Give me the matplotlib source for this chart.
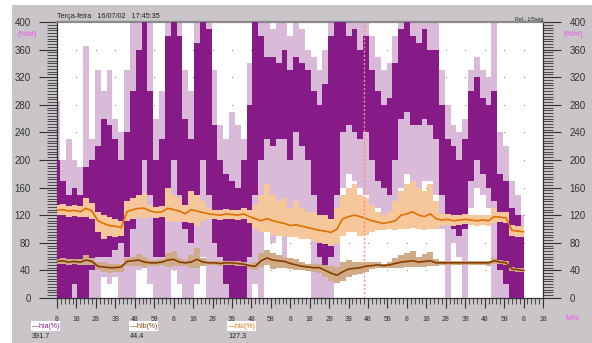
import numpy as np
import matplotlib.pyplot as plt
from matplotlib.ticker import MultipleLocator, FuncFormatter

# minutes since start of record, one sample every 3 min
t = np.arange(0, 241, 3)

# hla (%): dense band (dark) and spike extent (light)
hla_hi = [200, 170, 150, 160, 150, 190, 200, 220, 260, 250, 230, 200, 240, 300, 360, 400,
          300, 200, 230, 380, 400, 380, 260, 230, 370, 400, 390, 250, 200, 180, 170, 160,
          200, 280, 400, 380, 350, 350, 340, 360, 330, 350, 340, 330, 300, 280, 310, 380,
          400, 400, 380, 390, 360, 380, 330, 300, 280, 290, 340, 390, 400, 380, 370, 390,
          360, 360, 280, 230, 220, 200, 230, 300, 320, 290, 280, 300, 180, 170, 130, 120, 100]
hla_lo = [0, 0, 0, 20, 0, 0, 40, 60, 60, 60, 70, 80, 60, 100, 150, 200,
          150, 60, 60, 150, 200, 150, 100, 80, 150, 200, 150, 80, 60, 20, 0, 0,
          0, 60, 150, 200, 230, 220, 230, 230, 200, 240, 220, 200, 150, 60, 30, 60,
          150, 240, 250, 240, 230, 240, 200, 170, 160, 150, 200, 260, 270, 250, 250, 260,
          250, 230, 150, 110, 100, 90, 100, 170, 200, 180, 160, 140, 40, 20, 0, 0, 0]
hla_max = [285, 200, 230, 200, 190, 365, 230, 330, 300, 330, 260, 240, 330, 400, 400, 400,
           400, 260, 300, 400, 400, 400, 330, 300, 400, 400, 400, 330, 250, 230, 270, 250,
           230, 340, 400, 400, 400, 390, 400, 400, 380, 400, 390, 360, 350, 330, 360, 400,
           400, 400, 400, 400, 400, 400, 380, 350, 330, 340, 380, 400, 400, 400, 400, 400,
           400, 400, 330, 280, 250, 240, 260, 330, 350, 330, 320, 400, 240, 220, 170, 150, 120]
hla_min = [0, 0, 0, 0, 0, 0, 0, 0, 30, 20, 30, 0, 0, 0, 40, 60,
           20, 0, 0, 0, 40, 20, 0, 0, 20, 60, 0, 0, 0, 0, 0, 0,
           0, 0, 20, 0, 100, 80, 120, 60, 100, 140, 100, 100, 0, 0, 0, 0,
           30, 160, 180, 170, 160, 150, 120, 130, 110, 120, 140, 160, 180, 170, 160, 170,
           170, 150, 100, 0, 80, 60, 0, 130, 160, 150, 130, 0, 0, 0, 0, 0, 0]

# hlb (%)
hlb = [53, 54, 52, 53, 52, 55, 53, 46, 45, 44, 44, 45, 53, 54, 55, 52,
       51, 51, 52, 55, 56, 52, 51, 52, 56, 52, 51, 51, 50, 51, 51, 50,
       49, 47, 46, 54, 58, 55, 54, 53, 50, 48, 46, 45, 44, 44, 40, 36,
       33, 38, 42, 43, 44, 46, 47, 48, 47, 48, 50, 52, 53, 54, 52, 53,
       54, 51, 51, 51, 51, 51, 51, 51, 51, 51, 51, 54, 52, 51, 42, 41, 40]
hlb_lo = [49, 50, 48, 49, 48, 48, 48, 40, 38, 36, 37, 38, 47, 47, 46, 44,
          47, 47, 48, 45, 46, 46, 47, 44, 44, 46, 48, 48, 47, 48, 48, 47,
          46, 42, 40, 45, 48, 42, 44, 44, 42, 40, 40, 39, 38, 36, 30, 25,
          22, 25, 30, 33, 35, 38, 42, 44, 44, 44, 44, 44, 45, 45, 45, 45,
          46, 46, 48, 48, 48, 48, 48, 48, 48, 48, 47, 50, 49, 48, 39, 38, 37]
hlb_hi = [57, 58, 56, 57, 56, 62, 58, 52, 52, 50, 50, 50, 58, 60, 64, 60,
          55, 55, 56, 65, 68, 58, 55, 62, 72, 58, 54, 54, 53, 54, 54, 53,
          52, 50, 52, 65, 70, 65, 62, 60, 58, 56, 52, 50, 50, 50, 48, 46,
          45, 52, 55, 52, 52, 52, 52, 52, 50, 52, 58, 62, 65, 68, 60, 64,
          66, 56, 54, 54, 54, 54, 54, 54, 54, 54, 54, 58, 55, 54, 45, 44, 43]

# hlc (%)
hlc = [127, 128, 126, 127, 125, 130, 126, 112, 108, 105, 104, 102, 125, 128, 130, 130,
       126, 124, 125, 130, 128, 126, 122, 128, 126, 124, 122, 121, 120, 122, 121, 120,
       122, 118, 115, 112, 115, 112, 110, 108, 105, 106, 104, 102, 100, 98, 97, 95,
       100, 115, 118, 120, 118, 115, 112, 110, 108, 110, 112, 120, 122, 125, 120, 118,
       122, 115, 113, 114, 112, 113, 114, 113, 112, 113, 112, 118, 117, 116, 98, 97, 96]
hlc_lo = [120, 120, 118, 119, 117, 118, 115, 95, 85, 90, 88, 90, 112, 115, 118, 115,
          118, 116, 117, 112, 110, 112, 110, 108, 105, 112, 115, 114, 113, 115, 114, 113,
          114, 108, 100, 95, 95, 92, 90, 90, 88, 88, 85, 85, 82, 80, 78, 75,
          80, 90, 95, 95, 90, 92, 95, 98, 98, 100, 98, 100, 100, 102, 100, 98,
          100, 100, 105, 106, 105, 106, 107, 106, 105, 106, 104, 108, 110, 108, 90, 89, 88]
hlc_hi = [135, 136, 134, 135, 133, 145, 138, 125, 120, 118, 115, 112, 140, 145, 150, 152,
          135, 132, 133, 160, 150, 145, 135, 155, 150, 140, 130, 128, 127, 129, 128, 127,
          130, 128, 135, 150, 165, 150, 140, 145, 130, 140, 130, 125, 125, 120, 120, 115,
          130, 150, 160, 165, 150, 145, 135, 125, 120, 125, 140, 155, 165, 170, 160, 155,
          165, 140, 122, 122, 120, 121, 122, 121, 120, 121, 120, 130, 125, 124, 106, 105, 104]

cursor_t = 158

gray_bg = "#c9c5c9"
dark_purple = "#861a86"
light_purple = "#d9bbd9"
orange = "#e07000"
light_orange = "#f5c79a"
brown = "#8a3c00"
light_brown = "#cfab88"
magenta = "#ee55ee"

plt.rcParams["font.family"] = ["Liberation Sans", "DejaVu Sans"]

fig = plt.figure(figsize=(5.92, 3.43), dpi=100)
fig.patch.set_facecolor("white")
fig.patches.append(plt.Rectangle((12 / 592, 0), 1, 1 - 5 / 343, transform=fig.transFigure,
                                 facecolor=gray_bg, edgecolor="none", zorder=-10))

ax = fig.add_axes([57 / 592, 1 - 298 / 343, (543 - 57) / 592, (298 - 22) / 343])
ax.set_facecolor("white")

# dotted grid
gx, gy = np.meshgrid(np.arange(10, 250, 10), np.arange(40, 400, 40))
ax.scatter(gx.ravel(), gy.ravel(), s=0.6, color="#777777", zorder=1, linewidths=0)

ax.fill_between(t, hla_min, hla_max, color=light_purple, lw=0, zorder=2, step="mid")
ax.fill_between(t, hla_lo, hla_hi, color=dark_purple, lw=0, zorder=3, step="mid")

ax.fill_between(t, hlc_lo, hlc_hi, color=light_orange, lw=0, zorder=4, step="mid")
ax.plot(t, hlc, color=orange, lw=1.2, zorder=5)
ax.fill_between(t, hlb_lo, hlb_hi, color=light_brown, lw=0, zorder=4, step="mid")
ax.plot(t, hlb, color=brown, lw=1.2, zorder=5)

ax.axvline(cursor_t, color="#ff8a80", lw=1.0, ls=(0, (1.5, 1.5)), zorder=6)

ax.set_xlim(0, 250)
ax.set_ylim(0, 400)

ax.xaxis.set_major_locator(MultipleLocator(10))
ax.xaxis.set_minor_locator(MultipleLocator(2))
ax.xaxis.set_major_formatter(FuncFormatter(lambda v, p: f"{int(round(8 + v)) % 60}"))
ax.yaxis.set_major_locator(MultipleLocator(40))
ax.yaxis.set_minor_locator(MultipleLocator(4))

ax.tick_params(axis="x", which="major", direction="out", length=7, width=0.8,
               labelsize=5, pad=6, colors="#333333")
ax.tick_params(axis="x", which="minor", direction="out", length=4, width=0.6, colors="#333333")
ax.tick_params(axis="y", which="major", direction="out", length=13, width=0.8,
               labelsize=7, pad=6, left=True, right=True, labelleft=True, labelright=True,
               colors="#333333")
ax.tick_params(axis="y", which="minor", direction="out", length=7, width=0.6,
               left=True, right=True, colors="#333333")

for s in ["left", "right", "bottom"]:
    ax.spines[s].set_color("#333333")
    ax.spines[s].set_linewidth(0.9)
ax.spines["top"].set_color("#8a8a8a")
ax.spines["top"].set_linewidth(1.6)

fig.text(57 / 592, 1 - 17 / 343, "Terça-feira   16/07/02   17:45:35", fontsize=5.2,
         va="center", ha="left", color="#222222")
fig.text(543 / 592, 1 - 19 / 343, "Rel.: 1/5seg", fontsize=3.8, va="center", ha="right",
         color="#222222")
fig.text(37 / 592, 1 - 35 / 343, "(%hl)", fontsize=6, color=magenta, ha="right", va="center")
fig.text(563 / 592, 1 - 35 / 343, "(%hl)", fontsize=6, color=magenta, ha="left", va="center")
fig.text(565 / 592, 1 - 318 / 343, "MIN.", fontsize=5, color=magenta, ha="left", va="center")

legend_items = [("—hla(%)", "391.7", dark_purple, 32),
                ("—hlb(%)", "44.4", brown, 130),
                ("—hlc(%)", "127.3", orange, 228)]
for name, val, col, xpx in legend_items:
    fig.text(xpx / 592, 1 - 326 / 343, name, fontsize=5, color=col, ha="left", va="center",
             bbox=dict(facecolor="white", edgecolor="none", pad=0.8))
    fig.text(xpx / 592, 1 - 336 / 343, val, fontsize=5.2, color="#222222", ha="left", va="center")

fig.savefig("out.png", dpi=100, facecolor=fig.get_facecolor())
